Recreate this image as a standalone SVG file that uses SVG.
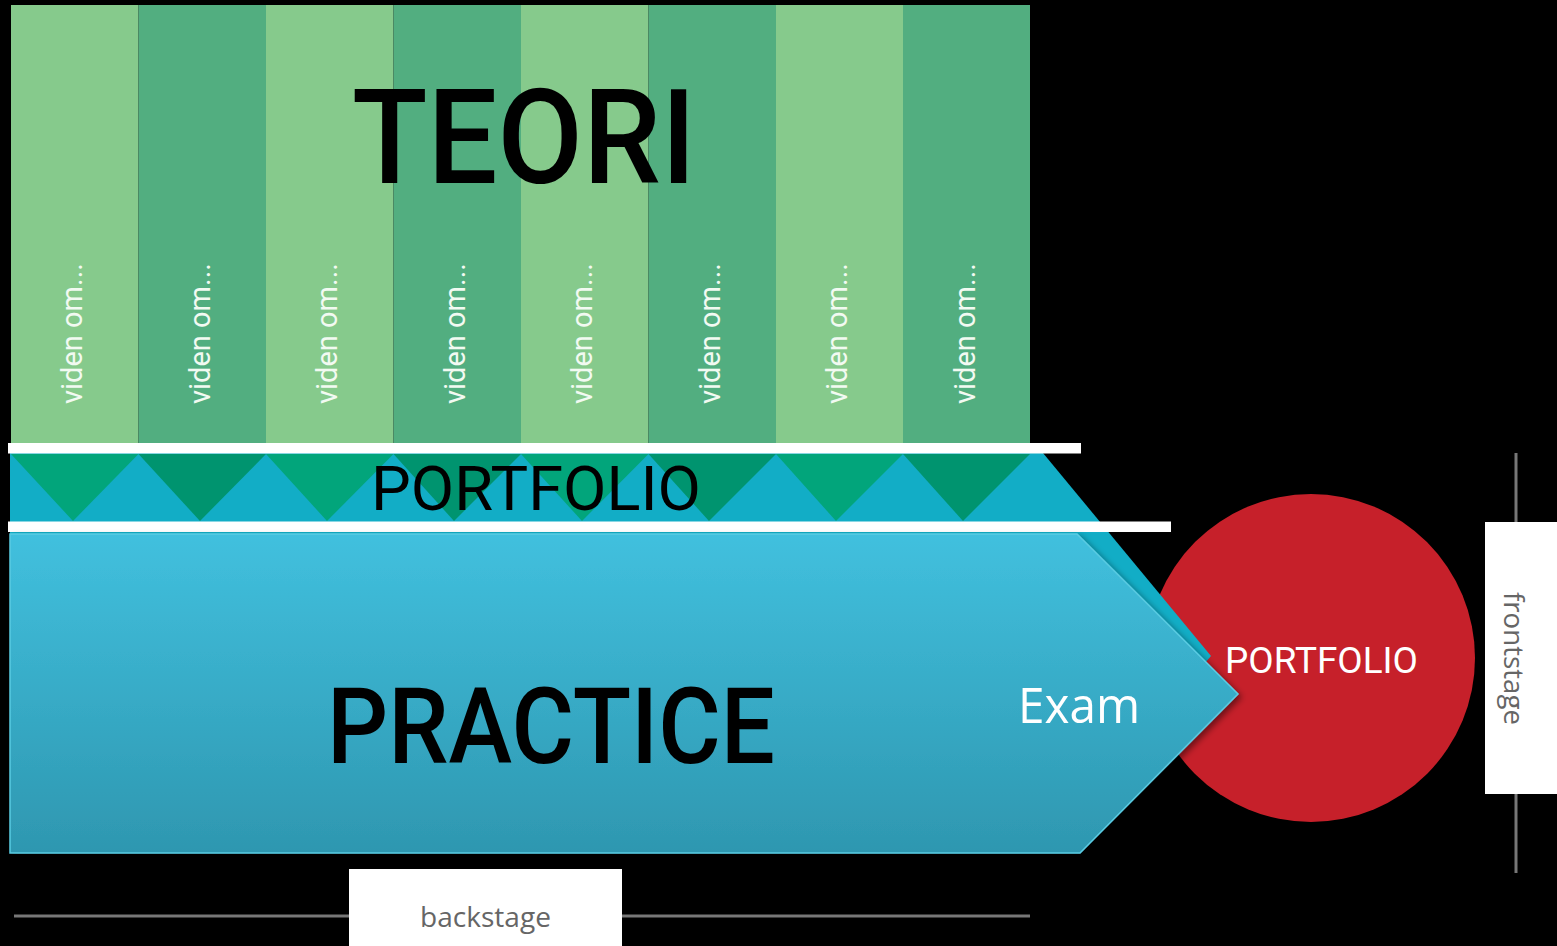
<svg xmlns="http://www.w3.org/2000/svg" width="1557" height="946" viewBox="0 0 1557 946">
<style>
.lg{fill:#86CA8C}
.dg{fill:#52AE80}
.t1{fill:#02A57B}
.t2{fill:#00946F}
.vid{font-family:Roboto,"Liberation Sans",sans-serif;font-size:29px;fill:#F2FAF2}
.din{font-family:Roboto,"Liberation Sans",sans-serif}
.stage{font-family:"Open Sans","Liberation Sans",sans-serif;font-size:27px;fill:#666}
</style>
<defs>
<linearGradient id="pg" x1="0" y1="0" x2="0" y2="1">
<stop offset="0" stop-color="#41C0DE"/>
<stop offset="1" stop-color="#2E97B0"/>
</linearGradient>
<filter id="sh" x="-10%" y="-10%" width="130%" height="130%">
<feDropShadow dx="3" dy="3" stdDeviation="3" flood-color="#000" flood-opacity="0.45"/>
</filter>
</defs>
<rect x="0" y="0" width="1557" height="946" fill="#000"/>
<g id="teori">
<rect class="lg" x="11" y="5" width="127.5" height="439"/>
<rect class="dg" x="138.5" y="5" width="127.5" height="439"/>
<rect class="lg" x="266" y="5" width="127.5" height="439"/>
<rect class="dg" x="393.5" y="5" width="127.5" height="439"/>
<rect class="lg" x="521" y="5" width="127.5" height="439"/>
<rect class="dg" x="648.5" y="5" width="127.5" height="439"/>
<rect class="lg" x="776" y="5" width="127" height="439"/>
<rect class="dg" x="903" y="5" width="127" height="439"/>
<text class="din" x="352" y="183" font-size="131" font-weight="500" fill="#000" textLength="344" lengthAdjust="spacingAndGlyphs">TEORI</text>
<g class="vid">
<text transform="translate(82,404) rotate(-90)" textLength="141" lengthAdjust="spacingAndGlyphs">viden om...</text>
<text transform="translate(209.5,404) rotate(-90)" textLength="141" lengthAdjust="spacingAndGlyphs">viden om...</text>
<text transform="translate(337,404) rotate(-90)" textLength="141" lengthAdjust="spacingAndGlyphs">viden om...</text>
<text transform="translate(464.5,404) rotate(-90)" textLength="141" lengthAdjust="spacingAndGlyphs">viden om...</text>
<text transform="translate(592,404) rotate(-90)" textLength="141" lengthAdjust="spacingAndGlyphs">viden om...</text>
<text transform="translate(719.5,404) rotate(-90)" textLength="141" lengthAdjust="spacingAndGlyphs">viden om...</text>
<text transform="translate(847,404) rotate(-90)" textLength="141" lengthAdjust="spacingAndGlyphs">viden om...</text>
<text transform="translate(974.5,404) rotate(-90)" textLength="141" lengthAdjust="spacingAndGlyphs">viden om...</text>
</g>
</g>
<g id="exam-portfolio">
<circle cx="1311" cy="658" r="164" fill="#C6202A"/>
<text class="din" x="1225" y="673" font-size="36" font-weight="400" fill="#fff" textLength="193" lengthAdjust="spacingAndGlyphs">PORTFOLIO</text>
</g>
<g id="portfolio">
<polygon points="10,453 1043,453 1211,656 1205,663 1090,790 10,790" fill="#12ADC6"/>
<polygon class="t1" points="11,454 138.5,454 73,521"/>
<polygon class="t2" points="138.5,454 266,454 200,521"/>
<polygon class="t1" points="266,454 393.5,454 327,521"/>
<polygon class="t2" points="393.5,454 521,454 454,521"/>
<polygon class="t1" points="521,454 648.5,454 582,521"/>
<polygon class="t2" points="648.5,454 776,454 709,521"/>
<polygon class="t1" points="776,454 903,454 836,521"/>
<polygon class="t2" points="903,454 1030,454 963,521"/>
<rect x="8" y="443" width="1073" height="10.5" fill="#fff"/>
<rect x="8" y="521.5" width="1163" height="10.5" fill="#fff"/>
<text class="din" x="371" y="510" font-size="62" font-weight="400" fill="#000" textLength="330" lengthAdjust="spacingAndGlyphs">PORTFOLIO</text>
</g>
<g id="practice">
<polygon points="10,534 1077,534 1238,694 1080,853 10,853" fill="url(#pg)" stroke="#5ACBE2" stroke-width="1.5" filter="url(#sh)"/>
<text class="din" x="327" y="763" font-size="105" font-weight="500" fill="#000" textLength="448" lengthAdjust="spacingAndGlyphs">PRACTICE</text>
<text x="1018" y="723" font-family="'Open Sans','Liberation Sans',sans-serif" font-size="49" fill="#fff" textLength="122" lengthAdjust="spacingAndGlyphs">Exam</text>
</g>
<g id="connectors">
<line x1="14" y1="916" x2="1030" y2="916" stroke="#777" stroke-width="3"/>
<line x1="1516" y1="453" x2="1516" y2="873" stroke="#777" stroke-width="3"/>
</g>
<g id="backstage">
<rect x="349" y="869" width="273" height="80" fill="#fff"/>
<text class="stage" x="420" y="927" textLength="131" lengthAdjust="spacingAndGlyphs">backstage</text>
</g>
<g id="frontstage">
<rect x="1485" y="522" width="75" height="272" fill="#fff"/>
<text class="stage" transform="translate(1504,592) rotate(90)" textLength="133" lengthAdjust="spacingAndGlyphs">frontstage</text>
</g>
</svg>
